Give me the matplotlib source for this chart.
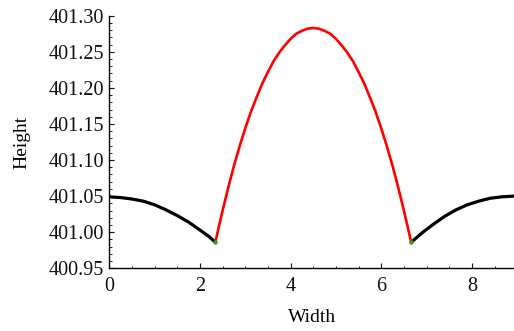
import matplotlib
matplotlib.use("Agg")
import matplotlib.pyplot as plt
from matplotlib.ticker import MultipleLocator, FormatStrFormatter

# Left black segment
left_x = [0.0, 0.25, 0.5, 0.75, 1.0, 1.25, 1.5, 1.75, 2.0, 2.2, 2.34]
left_y = [401.049, 401.048, 401.046, 401.043, 401.038, 401.031, 401.023,
          401.014, 401.003, 400.994, 400.986]

# Red arch segment
mid_x = [2.34, 2.4, 2.5, 2.625, 2.75, 2.875, 3.0, 3.125, 3.25, 3.375, 3.5,
         3.625, 3.75, 3.875, 4.0, 4.125, 4.25, 4.375, 4.5, 4.625, 4.75,
         4.875, 5.0, 5.125, 5.25, 5.375, 5.5, 5.625, 5.75, 5.875, 6.0,
         6.125, 6.25, 6.375, 6.5, 6.6, 6.66]
mid_y = [400.986, 401.003, 401.030, 401.062, 401.092, 401.119, 401.144,
         401.167, 401.187, 401.206, 401.222, 401.237, 401.249, 401.259,
         401.268, 401.275, 401.279, 401.282, 401.283, 401.282, 401.279,
         401.275, 401.268, 401.259, 401.249, 401.237, 401.222, 401.206,
         401.187, 401.167, 401.144, 401.119, 401.092, 401.062, 401.030,
         401.003, 400.986]

# Right black segment
right_x = [6.66, 6.9, 7.15, 7.4, 7.65, 7.9, 8.15, 8.4, 8.65, 8.93]
right_y = [400.986, 400.999, 401.011, 401.022, 401.031, 401.038, 401.043,
           401.047, 401.049, 401.050]

# Junction points
junction_x = [2.34, 6.66]
junction_y = [400.986, 400.986]

plt.rcParams['font.family'] = ['Liberation Serif', 'DejaVu Serif']

fig = plt.figure(figsize=(5.14, 3.31), dpi=100)
ax = fig.add_axes([0.2127, 0.1894, 1.0 - 0.2127, 0.9526 - 0.1894])

ax.plot(left_x, left_y, color='black', lw=2.3, solid_capstyle='round',
        solid_joinstyle='round')
ax.plot(right_x, right_y, color='black', lw=2.3, solid_capstyle='round',
        solid_joinstyle='round')
ax.plot(mid_x, mid_y, color='#ff0000', lw=1.9, solid_capstyle='round',
        solid_joinstyle='round')
ax.plot(junction_x, junction_y, 'o', color='#22aa22', ms=3.2, mec='none', zorder=5)

ax.set_xlim(0, 8.93)
ax.set_ylim(400.95, 401.30)

for s in ['top', 'right']:
    ax.spines[s].set_visible(False)
for s in ['left', 'bottom']:
    ax.spines[s].set_linewidth(1.0)

ax.xaxis.set_major_locator(MultipleLocator(2))
ax.xaxis.set_minor_locator(MultipleLocator(0.5))
ax.yaxis.set_major_locator(MultipleLocator(0.05))
ax.yaxis.set_minor_locator(MultipleLocator(0.01))
ax.yaxis.set_major_formatter(FormatStrFormatter('%.2f'))
ax.xaxis.set_major_formatter(FormatStrFormatter('%d'))

ax.tick_params(which='major', direction='in', length=3.5, width=0.8,
               labelsize=14.5, colors='#111111')
ax.tick_params(which='minor', direction='in', length=1.8, width=0.6)
ax.tick_params(axis='x', which='major', pad=6)
ax.tick_params(axis='y', which='major', pad=4)

ax.set_xlabel('Width', fontsize=14, va='center')
ax.set_ylabel('Height', fontsize=14, va='center')
ax.xaxis.set_label_coords(0.5, -0.193)
ax.yaxis.set_label_coords(-0.2157, 0.5)

fig.savefig('out.png', dpi=100)
